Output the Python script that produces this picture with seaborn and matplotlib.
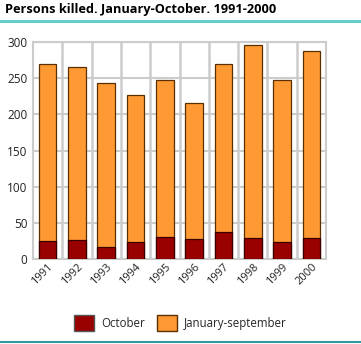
import matplotlib
matplotlib.use("Agg")
import matplotlib.pyplot as plt
from matplotlib.patches import Patch
from matplotlib.lines import Line2D
import seaborn as sns
import pandas as pd
import numpy as np

years = ["1991", "1992", "1993", "1994", "1995", "1996", "1997", "1998", "1999", "2000"]
october = [25, 26, 16, 23, 30, 27, 38, 29, 23, 29]
jan_sep = [245, 239, 227, 204, 218, 188, 231, 267, 225, 258]

sns.set_theme(style="white")
plt.rcParams['font.family'] = ['Open Sans', 'DejaVu Sans']

df = pd.DataFrame({"year": years, "October": october, "JanSep": jan_sep})
df["Total"] = df["October"] + df["JanSep"]

fig = plt.figure(figsize=(3.61, 3.44), dpi=100)
ax = fig.add_axes([33/361, 1 - 259/344, 293/361, 217/344])

grid_c = "#cccccc"
sns.barplot(data=df, x="year", y="Total", color="#ff9933", width=0.6,
            edgecolor="#5a3000", linewidth=0.9, saturation=1, ax=ax, zorder=3)
sns.barplot(data=df, x="year", y="October", color="#990000", width=0.6,
            edgecolor="#3a0000", linewidth=0.9, saturation=1, ax=ax, zorder=4)

ax.set_xlim(-0.5, 9.5)
ax.set_ylim(0, 300)
ax.set_yticks(range(0, 301, 50))
ax.set_xticks(np.arange(0.5, 9.5, 1), minor=True)
ax.grid(axis="y", which="major", color=grid_c, lw=1.5, zorder=0)
ax.grid(axis="x", which="minor", color=grid_c, lw=1.8, zorder=0)
ax.grid(axis="x", which="major", visible=False)
for s in ax.spines.values():
    s.set_color(grid_c)
    s.set_linewidth(1.5)
ax.set_xlabel("")
ax.set_ylabel("")
ax.tick_params(axis="y", labelsize=8.5, colors="#222222", length=0, pad=4)
ax.tick_params(axis="x", which="both", labelsize=8, colors="#222222", length=0, pad=2)
plt.setp(ax.get_xticklabels(), rotation=45, ha="right", rotation_mode="anchor")

fig.text(5/361, 1 - 10/344, "Persons killed. January-October. 1991-2000",
         fontsize=9.2, fontweight="bold", va="center", ha="left", color="#000000")
fig.add_artist(Line2D([0, 1], [1 - 21/344, 1 - 21/344], color="#66cccc", lw=2.2,
                      transform=fig.transFigure))
fig.add_artist(Line2D([0, 1], [1 - 342/344, 1 - 342/344], color="#339999", lw=1.5,
                      transform=fig.transFigure))

handles = [Patch(facecolor="#990000", edgecolor="#555555", label="October"),
           Patch(facecolor="#ff9933", edgecolor="#5a3000", label="January-september")]
fig.legend(handles=handles, loc="center", bbox_to_anchor=(0.5, 1 - 323/344),
           ncol=2, frameon=False, fontsize=8.3, handlelength=1.7, handleheight=1.8,
           columnspacing=1.1, handletextpad=0.6)

fig.savefig("out.png", dpi=100)
